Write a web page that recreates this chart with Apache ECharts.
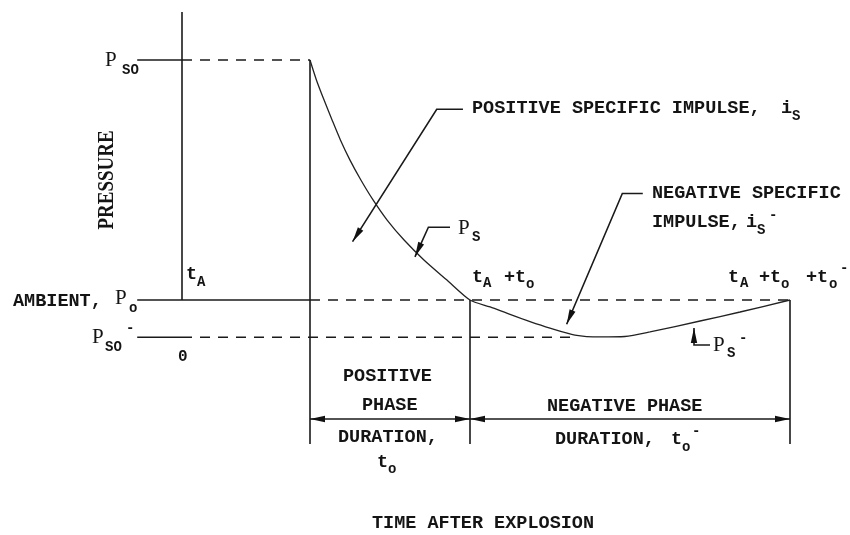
<!DOCTYPE html>
<html><head><meta charset="utf-8">
<script src="https://cdn.jsdelivr.net/npm/echarts@6/dist/echarts.min.js"></script>
<style>html,body{margin:0;padding:0;background:#fff}#c{width:850px;height:535px}</style>
</head><body><div id="c"></div>
<script>
// ---- Data (time units: t_A = 4, t_o = 5, t_o^- = 10 ; pressure normalised to P_so = 1) ----
const T_A = 4;
const T_O = 5;
const T_O_NEG = 10;
const P_AMB = 0;
const P_SO = 1.0;
const P_SO_NEG = -0.155;
const T_MIN = -2, T_MAX = 20, P_MIN = -0.6, P_MAX = 1.2;
const STUB_T = -1.4;          // start of the short reference stubs left of the axis
const NEG_DASH_END_T = 12.2;  // where the P_so^- dashed line meets the curve
const DURATION_P = -0.496;    // level of the duration dimension arrows

const curveT = [4, 4.2, 4.44, 4.69, 4.95, 5.25, 5.59, 5.97, 6.41, 6.94, 7.56, 8.28, 9,
                9.63, 10.25, 10.875, 11.5, 12.28, 13.06, 13.84, 14.625, 16.19, 17.44, 19];
const curveP = [1.0, 0.917, 0.833, 0.75, 0.667, 0.583, 0.5, 0.417, 0.333, 0.25, 0.167, 0.083, 0,
                -0.029, -0.060, -0.090, -0.117, -0.146, -0.154, -0.152, -0.133, -0.0875, -0.05, 0];

const leaderPosImpulse = [[8.78, 0.795], [7.96, 0.795], [5.33, 0.243]];
const leaderPs = [[8.375, 0.303], [7.70, 0.303], [7.28, 0.18]];
const leaderNegImpulse = [[14.4, 0.444], [13.76, 0.444], [12.02, -0.101]];
const leaderPsNeg = [[16.5, -0.1875], [16.0, -0.1875], [16.0, -0.117]];

// ---- derived ----
const T_POS_END = T_A + T_O;
const T_NEG_END = T_POS_END + T_O_NEG;

const solidSegs = [
  [[0, P_AMB], [0, P_MAX]],
  [[STUB_T, P_SO], [0, P_SO]],
  [[STUB_T, P_AMB], [T_A, P_AMB]],
  [[STUB_T, P_SO_NEG], [0, P_SO_NEG]],
  [[T_A, P_SO], [T_A, P_MIN]],
  [[T_POS_END, P_AMB], [T_POS_END, P_MIN]],
  [[T_NEG_END, P_AMB], [T_NEG_END, P_MIN]],
  [[T_A, DURATION_P], [T_POS_END, DURATION_P]],
  [[T_POS_END, DURATION_P], [T_NEG_END, DURATION_P]],
  leaderPosImpulse, leaderPs, leaderNegImpulse, leaderPsNeg
];
const dashedSegs = [
  [[0, P_SO], [T_A, P_SO]],
  [[T_A, P_AMB], [T_NEG_END, P_AMB]],
  [[0, P_SO_NEG], [NEG_DASH_END_T, P_SO_NEG]]
];
function tipOf(l) { const a = l[l.length - 1], b = l[l.length - 2]; return [a[0], a[1], b[0], b[1]]; }
const arrowHeads = [
  tipOf(leaderPosImpulse), tipOf(leaderPs), tipOf(leaderNegImpulse), tipOf(leaderPsNeg),
  [T_A, DURATION_P, T_POS_END, DURATION_P],
  [T_POS_END, DURATION_P, T_A, DURATION_P],
  [T_POS_END, DURATION_P, T_NEG_END, DURATION_P],
  [T_NEG_END, DURATION_P, T_POS_END, DURATION_P]
];

// ---- text helpers ----
const MONO = '"Liberation Mono", "DejaVu Sans Mono", monospace';
const SERIF = '"Liberation Serif", "DejaVu Serif", serif';
const INK = '#141414';
function txt(x, y, text, size, fam, weight) {
  return { type: 'text', x: x, y: y, silent: true, z: 10,
    style: { text: text, fill: INK, font: (weight || 'bold') + ' ' + size + 'px ' + (fam || MONO),
      textAlign: 'left', align: 'left', textVerticalAlign: 'middle', verticalAlign: 'middle' } };
}
const M = 18.5, S = 14;
function P(x, y) { return txt(x, y, 'P', 21, SERIF, 'normal'); }

const texts = [
  P(105, 60), txt(122, 70, 'SO', S),
  txt(13, 301, 'AMBIENT,', M), P(115, 298), txt(129, 308, 'o', S),
  P(92, 337), txt(105, 347, 'SO', S), txt(126, 328, '-', S),
  txt(178, 357, '0', 16),
  txt(186, 274, 't', M), txt(197, 282, 'A', S),
  txt(472, 108, 'POSITIVE SPECIFIC IMPULSE,', M), txt(781, 108, 'i', M), txt(792, 116, 'S', S),
  P(458, 228), txt(472, 237, 'S', S),
  txt(472, 277, 't', M), txt(483, 283, 'A', S), txt(504, 277, '+t', M), txt(526, 284, 'o', S),
  txt(728, 277, 't', M), txt(740, 283, 'A', S), txt(759, 277, '+t', M), txt(781, 284, 'o', S),
  txt(806, 277, '+t', M), txt(829, 284, 'o', S), txt(840, 268, '-', S),
  txt(652, 193, 'NEGATIVE SPECIFIC', M),
  txt(652, 222, 'IMPULSE,', M), txt(746, 222, 'i', M), txt(757, 230, 'S', S), txt(769, 215, '-', S),
  P(713, 345), txt(727, 353, 'S', S), txt(739, 338, '-', S),
  txt(343, 376, 'POSITIVE', M), txt(362, 405, 'PHASE', M), txt(338, 437, 'DURATION,', M),
  txt(377, 462, 't', M), txt(388, 469, 'o', S),
  txt(547, 406, 'NEGATIVE PHASE', M), txt(555, 439, 'DURATION,', M),
  txt(671, 439, 't', M), txt(682, 447, 'o', S), txt(692, 431, '-', S),
  txt(372, 523, 'TIME AFTER EXPLOSION', M),
  { type: 'text', x: 107, y: 180, rotation: Math.PI / 2, scaleY: 1.2, silent: true, z: 10,
    style: { text: 'PRESSURE', fill: INK, font: 'bold 19px ' + SERIF,
      textAlign: 'center', align: 'center', textVerticalAlign: 'middle', verticalAlign: 'middle' } }
];

const chart = echarts.init(document.getElementById('c'), null, { renderer: 'canvas' });
chart.setOption({
  animation: false,
  backgroundColor: '#fff',
  grid: { left: 118, top: 12, width: 704, height: 432 },
  xAxis: { type: 'value', min: T_MIN, max: T_MAX, show: false },
  yAxis: { type: 'value', min: P_MIN, max: P_MAX, show: false },
  series: [
    { type: 'line', data: curveT.map((t, i) => [t, curveP[i]]), smooth: 0.25, showSymbol: false,
      lineStyle: { color: '#222', width: 1.3 }, silent: true, z: 3 },
    { type: 'lines', coordinateSystem: 'cartesian2d', polyline: true, silent: true,
      data: solidSegs.map(c => ({ coords: c })), lineStyle: { color: '#1a1a1a', width: 1.6, opacity: 1 }, z: 2 },
    { type: 'lines', coordinateSystem: 'cartesian2d', polyline: true, silent: true,
      data: dashedSegs.map(c => ({ coords: c })), lineStyle: { color: '#1a1a1a', width: 1.6, opacity: 1, type: [10, 8] }, z: 2 },
    { type: 'custom', coordinateSystem: 'cartesian2d', silent: true, z: 4,
      data: arrowHeads, encode: { x: [0, 2], y: [1, 3] },
      renderItem: function (params, api) {
        const tip = api.coord([api.value(0), api.value(1)]);
        const from = api.coord([api.value(2), api.value(3)]);
        const dx = tip[0] - from[0], dy = tip[1] - from[1];
        const len = Math.hypot(dx, dy) || 1;
        const ux = dx / len, uy = dy / len, L = 15, W = 3.2;
        const bx = tip[0] - ux * L, by = tip[1] - uy * L;
        return { type: 'polygon', shape: { points: [tip, [bx - uy * W, by + ux * W], [bx + uy * W, by - ux * W]] },
          style: { fill: '#111', stroke: null } };
      } }
  ],
  graphic: texts
});
</script></body></html>
